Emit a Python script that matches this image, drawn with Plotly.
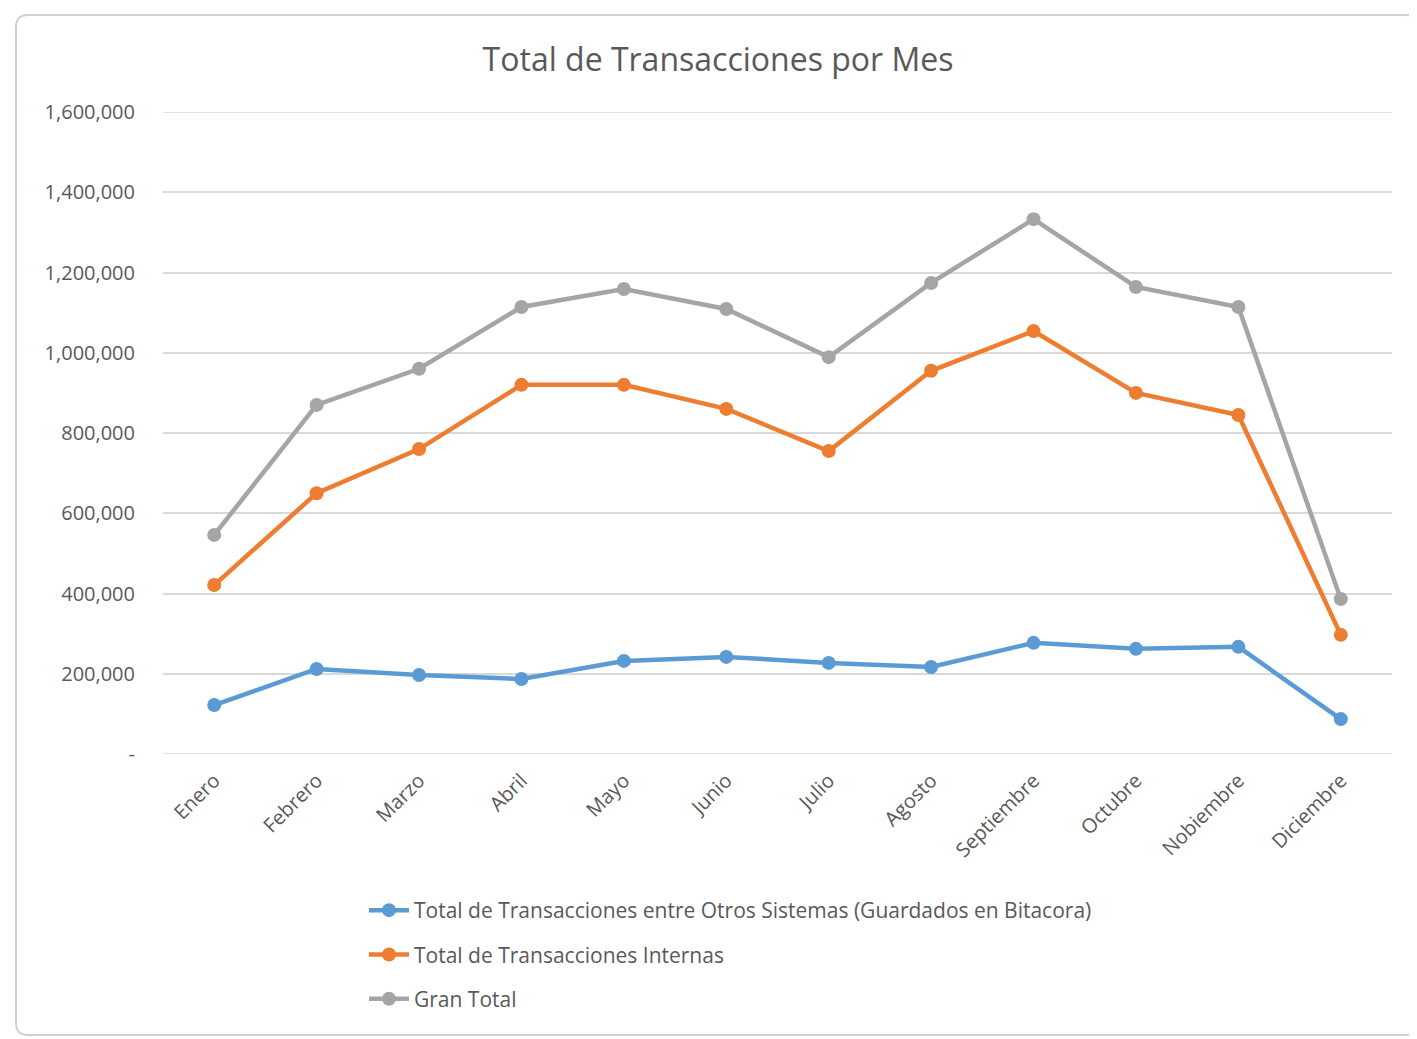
import plotly.graph_objects as go

meses = ["Enero", "Febrero", "Marzo", "Abril", "Mayo", "Junio", "Julio",
         "Agosto", "Septiembre", "Octubre", "Nobiembre", "Diciembre"]
otros_sistemas = [122000, 212000, 197000, 187000, 232000, 242000, 227000,
                  217000, 277000, 262000, 267000, 87000]
internas = [421000, 650000, 760000, 920000, 920000, 860000, 755000,
            955000, 1054000, 900000, 845000, 297000]
gran_total = [546000, 870000, 960000, 1114000, 1159000, 1109000, 989000,
              1174000, 1333000, 1164000, 1114000, 386000]

y_tickvals = [0, 200000, 400000, 600000, 800000, 1000000, 1200000, 1400000, 1600000]
y_ticktext = ["-", "200,000", "400,000", "600,000", "800,000", "1,000,000",
              "1,200,000", "1,400,000", "1,600,000"]

series = [
    ("Total de Transacciones entre Otros Sistemas (Guardados en Bitacora)", otros_sistemas, "#5B9BD5"),
    ("Total de Transacciones Internas", internas, "#ED7D31"),
    ("Gran Total", gran_total, "#A5A5A5"),
]

FONT = "Open Sans, Noto Sans, sans-serif"
TXT = "#595959"
GRID = "#D9D9D9"

fig = go.Figure()
for i, (name, vals, color) in enumerate(series):
    fig.add_trace(go.Scatter(
        x=meses, y=vals, name=name, mode="lines+markers",
        line=dict(color=color, width=4.5),
        marker=dict(color=color, size=14),
        legendgroup=f"g{i}",
    ))

# page body has an 8px margin; work in screen coordinates and shift
OFF = 8
W, H = 1417 - OFF, 1039 - OFF
L, R, T, B = 163 - OFF, 1392 - OFF, 112 - OFF, 754 - OFF
pw, ph = R - L, B - T
def px(x):
    return (x - OFF - L) / pw
def py(y):
    return (B - (y - OFF)) / ph

# rounded frame path (screen coords)
fx0, fx1, fy0, fy1, rr = 16, 1417, 15, 1035, 12
def P(x, y):
    return f"{px(x):.5f},{py(y):.5f}"
frame_path = (f"M {P(fx0 + rr, fy0)} L {P(fx1 - rr, fy0)} Q {P(fx1, fy0)} {P(fx1, fy0 + rr)} "
              f"L {P(fx1, fy1 - rr)} Q {P(fx1, fy1)} {P(fx1 - rr, fy1)} "
              f"L {P(fx0 + rr, fy1)} Q {P(fx0, fy1)} {P(fx0, fy1 - rr)} "
              f"L {P(fx0, fy0 + rr)} Q {P(fx0, fy0)} {P(fx0 + rr, fy0)} Z")

fig.update_layout(
    width=W, height=H,
    margin=dict(l=L, r=W - R, t=T, b=H - B),
    paper_bgcolor="white", plot_bgcolor="white",
    title=dict(text="Total de Transacciones por Mes", x=px(718), xref="paper",
               xanchor="center", y=1 - (60 - OFF) / H, yanchor="middle",
               font=dict(family=FONT, size=32, color=TXT)),
    font=dict(family=FONT, color=TXT),
    showlegend=True,
    legend=dict(orientation="v", x=px(364), xanchor="left", y=py(890), yanchor="top",
                font=dict(family=FONT, size=21, color=TXT),
                tracegroupgap=14, itemwidth=40, bgcolor="rgba(0,0,0,0)"),
    xaxis=dict(range=[-0.5, 11.5], showgrid=False, zeroline=False,
               tickangle=-45, ticks="", showline=False, ticklabelstandoff=10,
               tickfont=dict(family=FONT, size=20, color=TXT)),
    yaxis=dict(range=[0, 1600000], tickvals=y_tickvals, ticktext=y_ticktext,
               showgrid=True, gridcolor=GRID, gridwidth=1.5,
               zeroline=False, showline=False, ticks="", ticklabelstandoff=27,
               tickfont=dict(family=FONT, size=20, color=TXT)),
    shapes=[
        dict(type="line", xref="paper", yref="y", x0=0, x1=1, y0=0, y1=0,
             line=dict(color=GRID, width=1.5), layer="below"),
        dict(type="line", xref="paper", yref="y", x0=0, x1=1, y0=1600000, y1=1600000,
             line=dict(color=GRID, width=1.5), layer="below"),
        dict(type="path", xref="paper", yref="paper", path=frame_path,
             line=dict(color="#D0D0D0", width=2), layer="below"),
    ],
)

fig.write_html("out.html")
